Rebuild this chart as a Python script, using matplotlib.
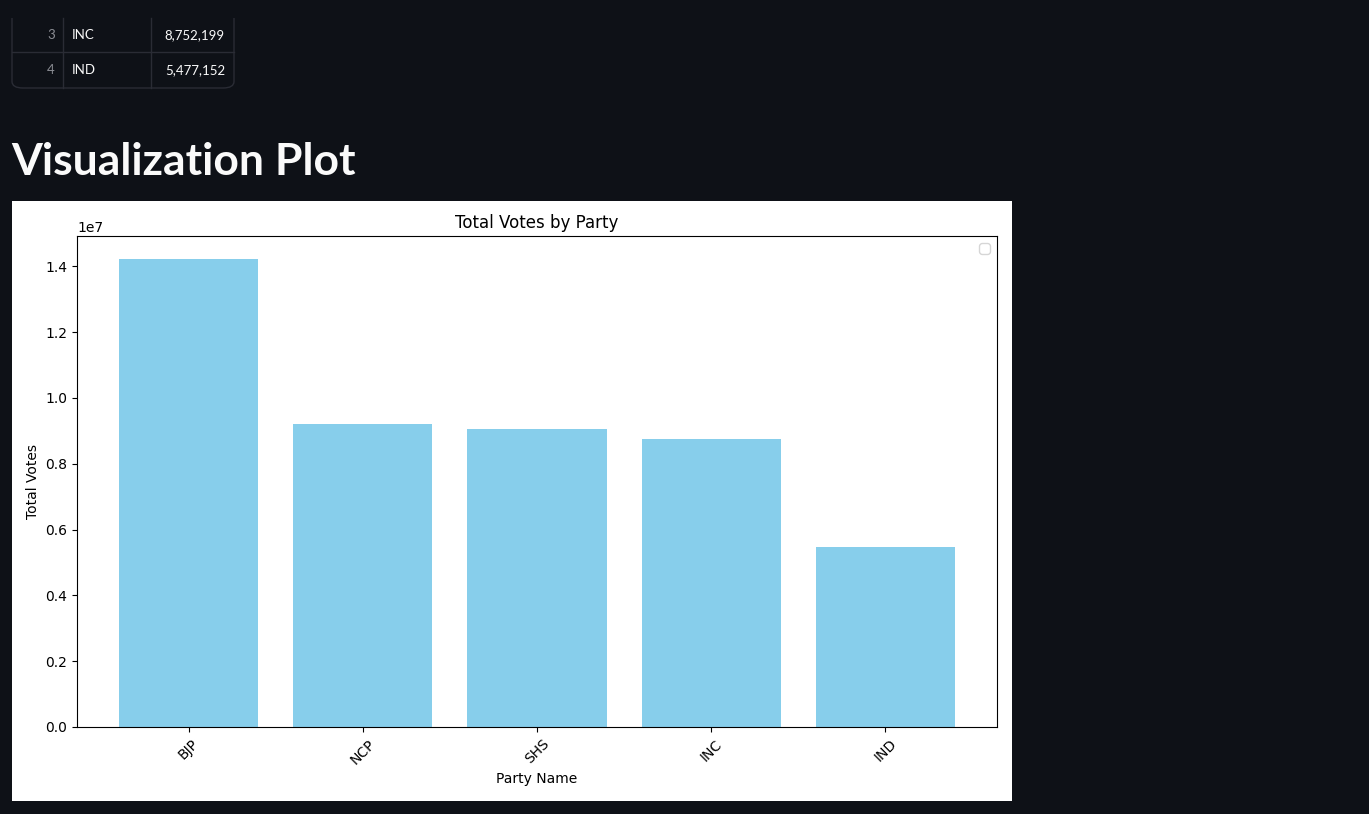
import matplotlib
matplotlib.use('Agg')
import matplotlib.pyplot as plt
from matplotlib.patches import Rectangle, FancyBboxPatch
from matplotlib.lines import Line2D

# data
party_names = ['BJP', 'NCP', 'SHS', 'INC', 'IND']
total_votes = [14210000, 9220000, 9070000, 8752199, 5477152]

# the bit of the table still visible at the top of the page
table_index = [3, 4]
table_party = ['INC', 'IND']
table_votes = [8752199, 5477152]

W, H = 1369, 814
BG = '#0e1117'
FONT = 'Lato'


def fx(px):
    return px / W


def fy(py):
    return 1 - py / H


fig = plt.figure(figsize=(W / 100, H / 100), dpi=100, facecolor=BG)

# table fragment (its top is scrolled off the page)
border = '#2a2c35'
fig.patches.append(FancyBboxPatch((fx(12), fy(88)), fx(234) - fx(12), fy(-20) - fy(88),
                                  boxstyle='round,pad=0,rounding_size=0.008',
                                  transform=fig.transFigure, facecolor=BG,
                                  edgecolor=border, linewidth=1))
fig.patches.append(Rectangle((0, fy(18)), fx(300), 1 - fy(18), transform=fig.transFigure,
                             facecolor=BG, edgecolor='none', zorder=1.5))
for x in [63, 151]:
    fig.lines.append(Line2D([fx(x), fx(x)], [fy(88), fy(18)], transform=fig.transFigure,
                            color=border, linewidth=1))
fig.lines.append(Line2D([fx(12), fx(234)], [fy(52), fy(52)], transform=fig.transFigure,
                        color=border, linewidth=1))
row_y = [35, 70]
for i in range(len(table_index)):
    fig.text(fx(55), fy(row_y[i]), str(table_index[i]), color='#8b8d94', fontsize=9.5,
             family=FONT, ha='right', va='center')
    fig.text(fx(72), fy(row_y[i]), table_party[i], color='#fafafa', fontsize=9.5,
             family=FONT, ha='left', va='center')
    fig.text(fx(225), fy(row_y[i]), format(table_votes[i], ','), color='#fafafa',
             fontsize=9.5, family=FONT, ha='right', va='center')

# page heading
fig.text(fx(11), fy(175), 'Visualization Plot', color='#fafafa', fontsize=32,
         family=FONT, fontweight='bold', ha='left', va='baseline')

# white chart area
fig.patches.append(Rectangle((fx(12), fy(801)), fx(1012) - fx(12), fy(201) - fy(801),
                             transform=fig.transFigure, facecolor='white', edgecolor='none'))

ax = fig.add_axes([fx(77), fy(727), fx(997) - fx(77), fy(236) - fy(727)])
ax.set_zorder(3)
ax.bar(party_names, total_votes, color='skyblue')
ax.set_title('Total Votes by Party')
ax.set_xlabel('Party Name')
ax.set_ylabel('Total Votes')
ax.tick_params(axis='x', labelrotation=45)
ax.legend()

fig.savefig('out.png', dpi=100, facecolor=BG)
